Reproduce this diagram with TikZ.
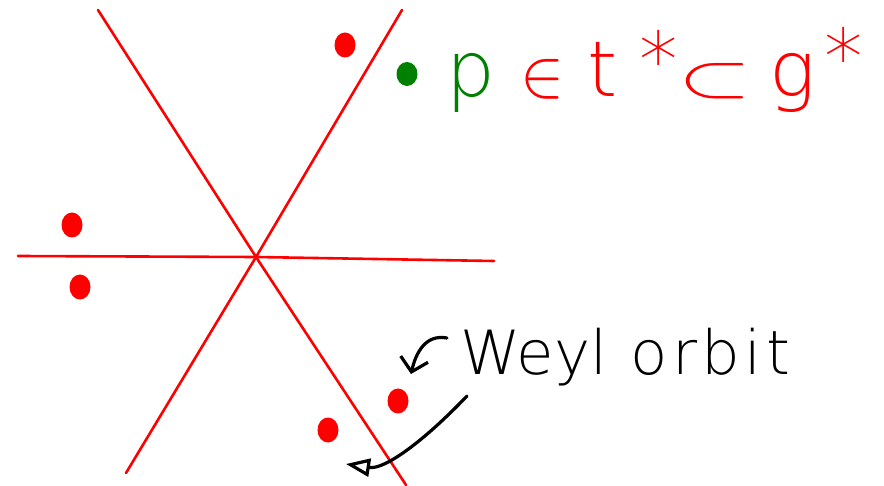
\documentclass[tikz,border=0pt]{standalone}
\usepackage{fontspec}
\setmainfont{DejaVu Sans}
\IfFontExistsTF{DejaVu Sans ExtraLight}
  {\newfontfamily\handfont{DejaVu Sans ExtraLight}}
  {\IfFontExistsTF{Fira Sans ExtraLight}
    {\newfontfamily\handfont{Fira Sans ExtraLight}}
    {\IfFontExistsTF{Fira Sans Light}
      {\newfontfamily\handfont{Fira Sans Light}}
      {\newcommand\handfont{\sffamily}}}}
\usetikzlibrary{arrows.meta,shapes.geometric}
\definecolor{pgreen}{RGB}{0,128,0}
\begin{document}
\begin{tikzpicture}[x=1pt,y=-1pt,
  mirror/.style={red, line width=2.6pt, line cap=round, line join=round},
  rdot/.style={fill=red, ellipse, inner sep=0, minimum width=21pt, minimum height=25pt},
  gdot/.style={fill=pgreen, ellipse, inner sep=0, minimum width=21pt, minimum height=24pt},
  pointer/.style={black, line width=3.2pt, line cap=round, line join=round}]
\useasboundingbox (0,0) rectangle (884,486);
% mirror lines
\coordinate (o) at (256,257);
\coordinate (h1) at (18,256);
\coordinate (h2) at (494,261);
\coordinate (a1) at (98,10);
\coordinate (a2) at (406,485);
\coordinate (b1) at (402,10);
\coordinate (b2) at (126,473);
\draw[mirror] (h1) -- (o) -- (h2);
\draw[mirror] (a1) -- (o) -- (a2);
\draw[mirror] (b1) -- (o) -- (b2);
% Weyl orbit points
\node[rdot] (d1) at (345,45) {};
\node[rdot] (d2) at (72,225) {};
\node[rdot] (d3) at (80,287) {};
\node[rdot] (d4) at (398,401) {};
\node[rdot] (d5) at (328,430) {};
\node[gdot] (p) at (407,74) {};
% formula
\node[anchor=base west, inner sep=0, font=\fontsize{77}{80}\handfont] (formula) at (446,97)
  {\textcolor{pgreen}{p}\hspace{25pt}\textcolor{red}{\resizebox{44pt}{37pt}{$\in$}\hspace{23pt}t\hspace{22pt}\raisebox{9pt}{*}\hspace{1pt}\resizebox{73pt}{33pt}{$\subset$}\hspace{18pt}g\hspace{8pt}\raisebox{12pt}{*}}};
% label
\node[anchor=base west, inner sep=0, font=\fontsize{61}{64}\handfont] (weyl) at (460,374)
  {Weyl\hspace{4pt} {\addfontfeatures{LetterSpace=7}orbit}};
% arrows
\coordinate (s1) at (447,338);
\coordinate (e1) at (411,374);
\draw[pointer, -{Straight Barb[length=13pt,width=28pt]}] (s1) .. controls (426,334) and (416,352) .. (e1);
\coordinate (s2) at (467,396);
\coordinate (e2) at (346,464);
\draw[pointer, -{Triangle[open,length=24pt,width=18pt]}] (s2) .. controls (425,440) and (385,470) .. (e2);
\end{tikzpicture}
\end{document}
